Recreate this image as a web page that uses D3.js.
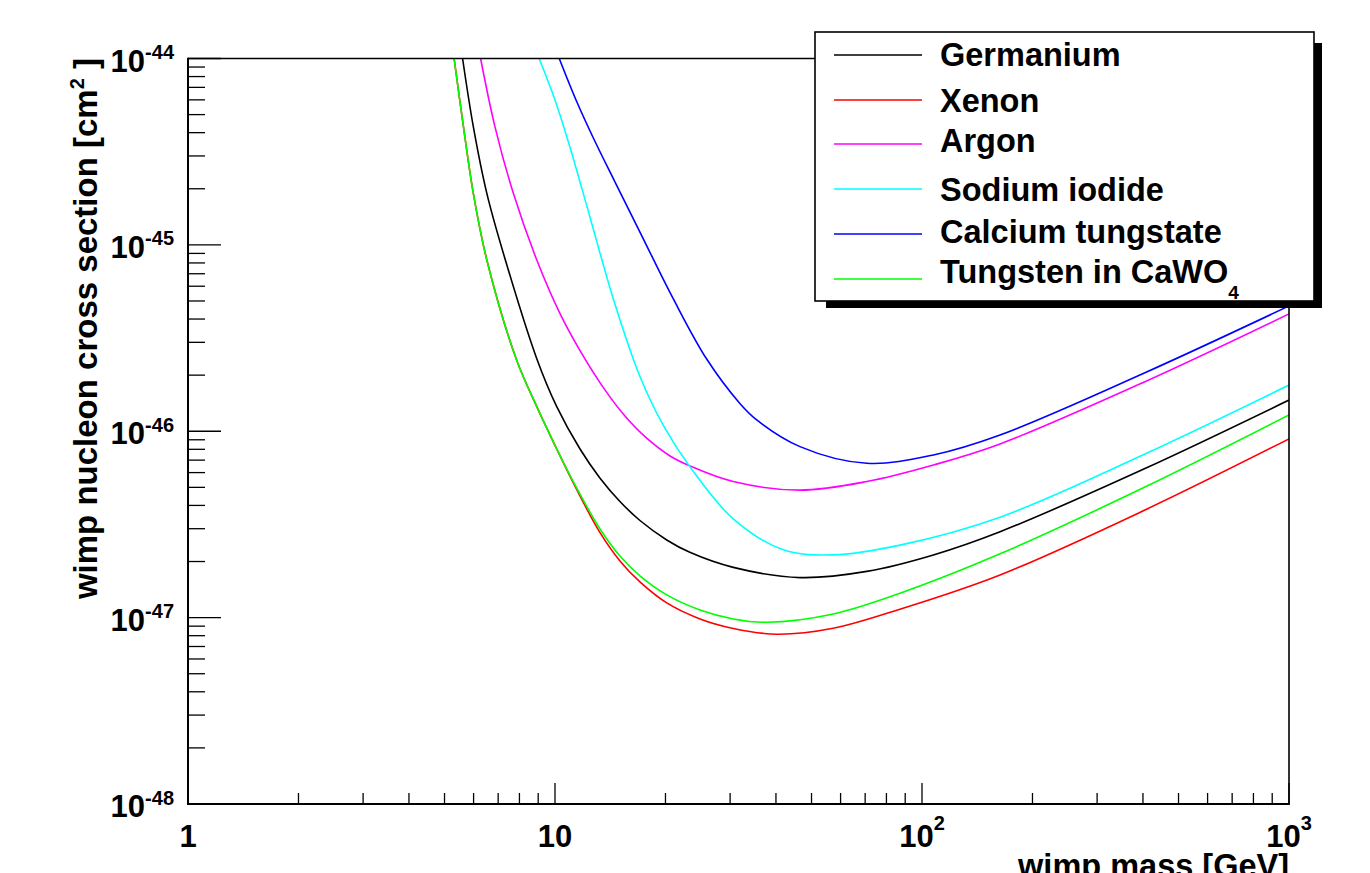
<!DOCTYPE html>
<html>
<head>
<meta charset="utf-8">
<script src="https://cdn.jsdelivr.net/npm/d3@7"></script>
<style>
html,body{margin:0;padding:0;background:#fff;}
svg{display:block;}
text{font-family:"Liberation Sans",Arial,Helvetica,sans-serif;font-weight:bold;fill:#000;}
</style>
</head>
<body>
<svg id="chart" width="1370" height="873"></svg>
<script>
// ---------------- data ----------------
const seriesNames = ["Germanium","Xenon","Argon","Sodium iodide","Calcium tungstate","Tungsten in CaWO"];
const seriesColors = ["#000000","#ff0000","#ff00ff","#00ffff","#0000ff","#00ff00"];

const massGe   = [5.60, 5.99, 6.52, 7.31, 8.92, 10.11, 11.70, 13.25, 15.03, 17.04, 20.16, 23.3, 30.6, 46.5, 70.7, 107.4, 163.2, 405, 1000];
const sigmaGe  = [1e-44, 4.31e-45, 1.89e-45, 8.4e-46, 2.45e-46, 1.355e-46, 8.03e-47, 5.62e-47, 4.20e-47, 3.32e-47, 2.61e-47, 2.24e-47, 1.86e-47, 1.64e-47, 1.77e-47, 2.17e-47, 2.89e-47, 6.31e-47, 1.47e-46];

const massXe   = [5.31, 5.63, 5.99, 6.52, 7.86, 8.92, 10.13, 11.22, 13.25, 15.03, 17.04, 20.16, 24.84, 30.6, 40.2, 57.3, 87.1, 163.2, 405, 1000];
const sigmaXe  = [1e-44, 4.31e-45, 1.89e-45, 8.3e-46, 2.41e-46, 1.355e-46, 7.96e-47, 5.28e-47, 2.865e-47, 2.014e-47, 1.554e-47, 1.199e-47, 9.84e-48, 8.75e-48, 8.15e-48, 8.77e-48, 1.11e-47, 1.694e-47, 3.78e-47, 9.1e-47];

const massAr   = [6.27, 6.86, 7.70, 8.92, 10.32, 11.70, 13.68, 15.51, 17.81, 20.58, 23.3, 30.6, 46.5, 70.7, 107.4, 163.2, 405, 1000];
const sigmaAr  = [1e-44, 4.31e-45, 1.89e-45, 8.3e-46, 4.28e-46, 2.71e-46, 1.667e-46, 1.208e-46, 9.15e-47, 7.37e-47, 6.52e-47, 5.37e-47, 4.83e-47, 5.37e-47, 6.59e-47, 8.55e-47, 1.845e-46, 4.26e-46];

const massNaI  = [9.05, 10.0, 10.99, 12.46, 14.42, 17.04, 19.73, 23.3, 30.6, 41.9, 57.3, 87.1, 163.2, 405, 1000];
const sigmaNaI = [1e-44, 5.99e-45, 3.33e-45, 1.404e-45, 5.13e-46, 1.968e-46, 1.076e-46, 6.46e-47, 3.385e-47, 2.31e-47, 2.17e-47, 2.45e-47, 3.46e-47, 7.55e-47, 1.77e-46];

const massCa   = [10.27, 11.41, 12.72, 14.57, 17.04, 21.01, 25.9, 31.9, 35.45, 46.5, 70.7, 107.4, 163.2, 405, 1000];
const sigmaCa  = [1e-44, 5.99e-45, 3.745e-45, 2.175e-45, 1.172e-45, 5.13e-46, 2.44e-46, 1.41e-46, 1.15e-46, 8.27e-47, 6.73e-47, 7.46e-47, 9.55e-47, 2.06e-46, 4.70e-46];

const massW    = [5.31, 5.63, 5.99, 6.52, 7.86, 8.92, 10.13, 11.22, 13.25, 15.03, 17.04, 20.16, 24.84, 30.6, 37.8, 57.3, 87.1, 163.2, 405, 1000];
const sigmaW   = [1e-44, 4.31e-45, 1.89e-45, 8.3e-46, 2.41e-46, 1.355e-46, 7.96e-47, 5.35e-47, 3.00e-47, 2.14e-47, 1.674e-47, 1.324e-47, 1.099e-47, 9.84e-48, 9.45e-48, 1.047e-47, 1.352e-47, 2.20e-47, 5.02e-47, 1.223e-46];

const xMajorTicks = [1, 10, 100, 1000];
const xTickLabels = [["1",""],["10",""],["10","2"],["10","3"]];
const yMajorTicks = [1e-48, 1e-47, 1e-46, 1e-45, 1e-44];
const yTickLabels = [["10","-48"],["10","-47"],["10","-46"],["10","-45"],["10","-44"]];
const minorMultipliers = [2,3,4,5,6,7,8,9];

const xTitle = "wimp mass [GeV]";
const yTitle = "wimp nucleon cross section [cm";

// ---------------- layout ----------------
const L = 188, R = 1289, T = 58.5, B = 804;
const svg = d3.select("#chart");
const x = d3.scaleLog().domain([1, 1000]).range([L, R]);
const y = d3.scaleLog().domain([1e-48, 1e-44]).range([B, T]);

const seriesData = [
  [massGe, sigmaGe], [massXe, sigmaXe], [massAr, sigmaAr],
  [massNaI, sigmaNaI], [massCa, sigmaCa], [massW, sigmaW]
];

// clip
svg.append("defs").append("clipPath").attr("id","plotclip")
  .append("rect").attr("x",L).attr("y",T).attr("width",R-L).attr("height",B-T);

// curves
const line = d3.line().x(d => x(d[0])).y(d => y(d[1])).curve(d3.curveCatmullRom.alpha(0.5));
const curves = svg.append("g").attr("clip-path","url(#plotclip)");
seriesData.forEach((s, i) => {
  const pts = s[0].map((m, k) => [m, s[1][k]]);
  curves.append("path").attr("d", line(pts))
    .attr("fill","none").attr("stroke", seriesColors[i]).attr("stroke-width",1.6);
});

// frame
svg.append("line").attr("x1",L).attr("x2",R).attr("y1",T).attr("y2",T).attr("stroke","#000").attr("stroke-width",1.6);
svg.append("line").attr("x1",R).attr("x2",R).attr("y1",T).attr("y2",B).attr("stroke","#000").attr("stroke-width",1.6);
svg.append("line").attr("x1",L).attr("x2",L).attr("y1",T-0.8).attr("y2",B+1).attr("stroke","#000").attr("stroke-width",2);
svg.append("line").attr("x1",L-1).attr("x2",R+0.8).attr("y1",B).attr("y2",B).attr("stroke","#000").attr("stroke-width",2);

// x ticks
const xMinor = [];
[1,10,100].forEach(d => minorMultipliers.forEach(m => xMinor.push(d*m)));
const tg = svg.append("g").attr("stroke","#000").attr("stroke-width",1.3);
xMinor.forEach(v => tg.append("line").attr("x1",x(v)).attr("x2",x(v)).attr("y1",B).attr("y2",B-11));
xMajorTicks.forEach(v => tg.append("line").attr("x1",x(v)).attr("x2",x(v)).attr("y1",B).attr("y2",B-21));

// y ticks
const yMinor = [];
[1e-48,1e-47,1e-46,1e-45].forEach(d => minorMultipliers.forEach(m => yMinor.push(d*m)));
yMinor.forEach(v => tg.append("line").attr("x1",L).attr("x2",L+17).attr("y1",y(v)).attr("y2",y(v)));
yMajorTicks.forEach(v => tg.append("line").attr("x1",L).attr("x2",L+33).attr("y1",y(v)).attr("y2",y(v)));

// x tick labels
xMajorTicks.forEach((v, i) => {
  const t = svg.append("text").attr("x", x(v)).attr("y", 847)
    .attr("text-anchor","middle").style("font-size","31px");
  t.append("tspan").text(xTickLabels[i][0]);
  if (xTickLabels[i][1]) {
    t.append("tspan").attr("dy",-17).style("font-size","20px").text(xTickLabels[i][1]);
  }
});

// y tick labels
yMajorTicks.forEach((v, i) => {
  const t = svg.append("text").attr("x", 174).attr("y", y(v) + 13)
    .attr("text-anchor","end").style("font-size","31px");
  t.append("tspan").text(yTickLabels[i][0]);
  t.append("tspan").attr("dy",-12.5).style("font-size","20px").text(yTickLabels[i][1]);
});

// axis titles
svg.append("text").attr("x", R).attr("y", 877).attr("text-anchor","end")
  .style("font-size","32.5px").text(xTitle);

const yt = svg.append("text").attr("transform","translate(97,58) rotate(-90)")
  .attr("text-anchor","end").style("font-size","33px");
yt.append("tspan").text(yTitle);
yt.append("tspan").attr("dy",-13).style("font-size","20px").text("2");
yt.append("tspan").attr("dy",13).style("font-size","33px").text("\u00a0]");

// legend
const lgX = 815, lgY = 32, lgW = 499, lgH = 269;
svg.append("rect").attr("x",lgX+11).attr("y",lgY+11).attr("width",lgW-3).attr("height",lgH-4).attr("fill","#000");
svg.append("rect").attr("x",lgX).attr("y",lgY).attr("width",lgW).attr("height",lgH)
  .attr("fill","#fff").attr("stroke","#000").attr("stroke-width",1.6);
const legendLineY = [55, 100, 144, 189, 234, 279];
const legendTextY = [66, 112, 152, 201, 243, 283];
seriesNames.forEach((name, i) => {
  svg.append("line").attr("x1",834).attr("x2",922).attr("y1",legendLineY[i]).attr("y2",legendLineY[i])
    .attr("stroke",seriesColors[i]).attr("stroke-width",1.6);
  const t = svg.append("text").attr("x",940).attr("y",legendTextY[i]).style("font-size","32.5px");
  t.append("tspan").text(name);
  if (i === 5) t.append("tspan").attr("dy",16).style("font-size","19px").text("4");
});
</script>
</body>
</html>
